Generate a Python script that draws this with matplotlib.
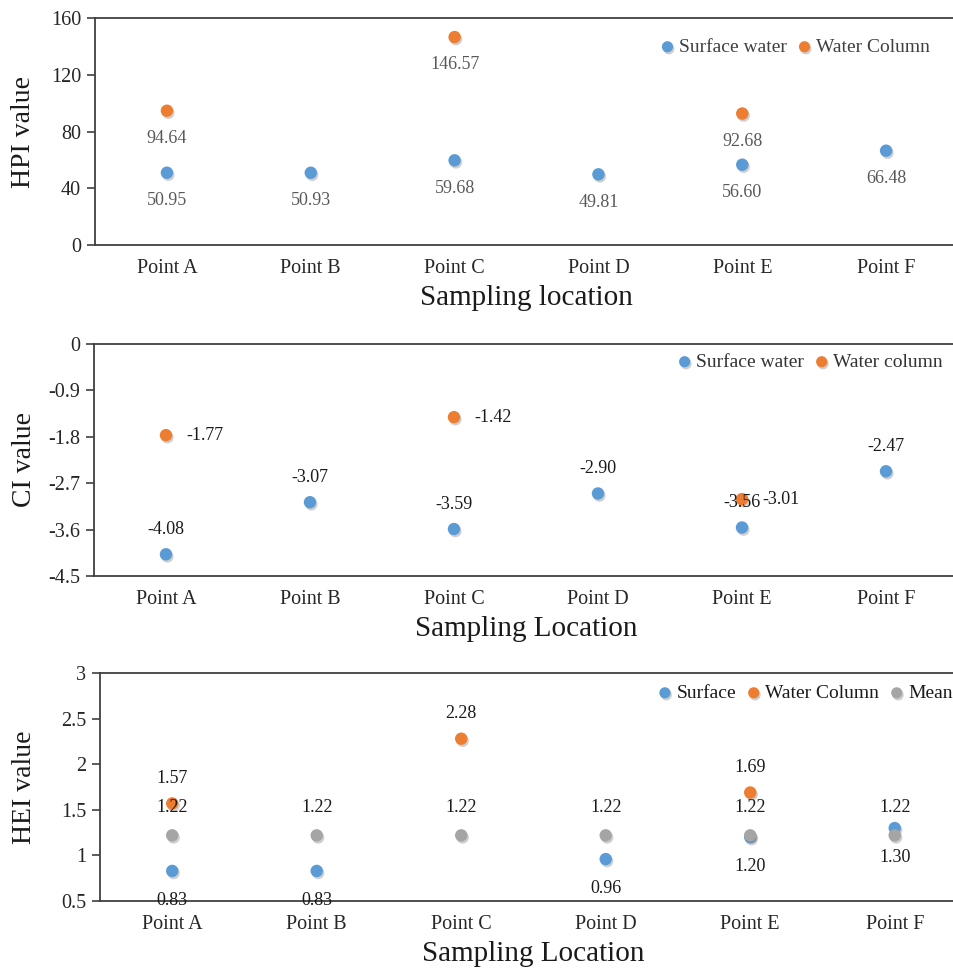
import numpy as np
import matplotlib
matplotlib.use('Agg')
import matplotlib.pyplot as plt
import matplotlib.patheffects as pe

plt.rcParams['font.family'] = ['Liberation Serif', 'DejaVu Serif']
plt.rcParams['axes.unicode_minus'] = False

# ---- data ----
points = ['Point A', 'Point B', 'Point C', 'Point D', 'Point E', 'Point F']

hpi_surface = [50.95, 50.93, 59.68, 49.81, 56.60, 66.48]
hpi_column = [94.64, np.nan, 146.57, np.nan, 92.68, np.nan]

ci_surface = [-4.08, -3.07, -3.59, -2.90, -3.56, -2.47]
ci_column = [-1.77, np.nan, -1.42, np.nan, -3.01, np.nan]

hei_surface = [0.83, 0.83, np.nan, 0.96, 1.20, 1.30]
hei_column = [1.57, np.nan, 2.28, np.nan, 1.69, np.nan]
hei_mean = [1.22, 1.22, 1.22, 1.22, 1.22, 1.22]

BLUE = '#5B9BD5'
ORANGE = '#ED7D31'
GRAY = '#A5A5A5'
shadow = [pe.SimplePatchShadow(offset=(1, -1.5), shadow_rgbFace='#777777', alpha=0.35), pe.Normal()]

fig = plt.figure(figsize=(9.54, 9.68), dpi=100)


def make_axes(rect, ylim, yticks, ylabel, xlabel, label_x):
    ax = fig.add_axes(rect)
    ax.set_xlim(-0.5, 5.5)
    ax.set_ylim(*ylim)
    ax.set_yticks(yticks)
    ax.set_yticklabels([f'{t:g}' for t in yticks])
    ax.set_xticks(range(len(points)))
    ax.set_xticklabels(points)
    ax.spines['right'].set_visible(False)
    for s in ['left', 'top', 'bottom']:
        ax.spines[s].set_color('#404040')
        ax.spines[s].set_linewidth(1.3)
    ax.tick_params(axis='y', direction='out', length=6, width=1.2, color='#404040',
                   labelsize=14.5, labelcolor='#262626', pad=4)
    ax.tick_params(axis='x', length=0, labelsize=14.5, labelcolor='#262626', pad=10)
    ax.set_ylabel(ylabel, fontsize=20, color='#1a1a1a')
    ax.yaxis.set_label_coords(label_x, 0.5)
    ax.set_xlabel(xlabel, fontsize=21, color='#1a1a1a', labelpad=5)
    return ax


def dots(ax, vals, color, name):
    x = np.arange(len(vals))
    sc = ax.scatter(x, vals, s=80, color=color, label=name, zorder=3, linewidths=0)
    sc.set_path_effects(shadow)
    return sc


def labels(ax, vals, dx, dy, color, ha='center'):
    for i, v in enumerate(vals):
        if np.isnan(v):
            continue
        ax.annotate(f'{v:.2f}', (i, v), xytext=(dx, dy), textcoords='offset points',
                    ha=ha, va='center', fontsize=13, color=color, zorder=5)


def legend(ax, anchor, ncol, color):
    leg = ax.legend(loc='center right', bbox_to_anchor=anchor, ncol=ncol, frameon=False,
                    fontsize=14, handlelength=0.8, handletextpad=0.2, columnspacing=0.5,
                    borderpad=0, borderaxespad=0, markerscale=0.9)
    for t in leg.get_texts():
        t.set_color(color)


# ---- HPI ----
ax1 = make_axes([0.0996, 0.7469, 0.9046, 0.2345], (0, 160), [0, 40, 80, 120, 160],
                'HPI value', 'Sampling location', -0.068)
dots(ax1, hpi_surface, BLUE, 'Surface water')
dots(ax1, hpi_column, ORANGE, 'Water Column')
labels(ax1, hpi_surface, 0, -20, '#595959')
labels(ax1, hpi_column, 0, -20, '#595959')
legend(ax1, (0.9676, 0.872), 2, '#404040')

# ---- CI ----
ax2 = make_axes([0.0985, 0.405, 0.9057, 0.2397], (-4.5, 0), [-4.5, -3.6, -2.7, -1.8, -0.9, 0],
                'CI value', 'Sampling Location', -0.066)
dots(ax2, ci_surface, BLUE, 'Surface water')
dots(ax2, ci_column, ORANGE, 'Water column')
labels(ax2, ci_surface, 0, 18, '#1a1a1a')
labels(ax2, ci_column, 15, 0, '#1a1a1a', ha='left')
legend(ax2, (0.9826, 0.922), 2, '#333333')

# ---- HEI ----
ax3 = make_axes([0.1048, 0.0692, 0.9088, 0.2355], (0.5, 3), [0.5, 1, 1.5, 2, 2.5, 3],
                'HEI value', 'Sampling Location', -0.073)
dots(ax3, hei_surface, BLUE, 'Surface')
dots(ax3, hei_column, ORANGE, 'Water Column')
dots(ax3, hei_mean, GRAY, 'Mean')
labels(ax3, hei_surface, 0, -21, '#1a1a1a')
labels(ax3, hei_column, 0, 18, '#1a1a1a')
labels(ax3, hei_mean, 0, 20, '#1a1a1a')
legend(ax3, (0.9838, 0.912), 3, '#1a1a1a')

fig.savefig('out.png', dpi=100)
